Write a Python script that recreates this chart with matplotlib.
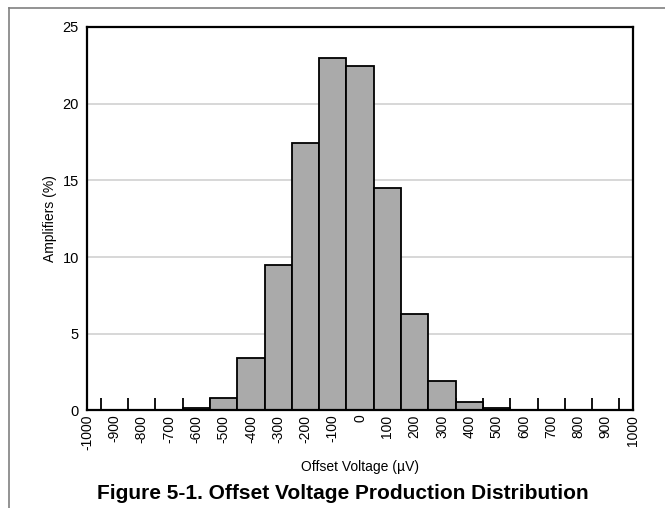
import matplotlib
matplotlib.use("Agg")
import matplotlib.pyplot as plt
import numpy as np
from matplotlib.lines import Line2D

plt.rcParams['font.family'] = ['Liberation Sans', 'DejaVu Sans']

# bin centers (uV) and share of amplifiers (%)
offset_uv = [-1000, -900, -800, -700, -600, -500, -400, -300, -200, -100, 0,
             100, 200, 300, 400, 500, 600, 700, 800, 900, 1000]
amplifiers_pct = [0, 0, 0, 0, 0.15, 0.8, 3.4, 9.5, 17.45, 22.95, 22.45,
                  14.48, 6.29, 1.89, 0.57, 0.13, 0, 0, 0, 0, 0]
y_ticks = [0, 5, 10, 15, 20, 25]

fig = plt.figure(figsize=(6.65, 5.08), dpi=100)
ax = fig.add_axes([0.131, 0.192, 0.821, 0.755])

ax.bar(offset_uv, amplifiers_pct, width=100, color="#aaaaaa",
       edgecolor="black", linewidth=1.3, zorder=3)

ax.set_xlim(-1000, 1000)
ax.set_ylim(0, 25)
ax.set_yticks(y_ticks)
ax.set_xticks(offset_uv)
ax.set_xticklabels([str(v) for v in offset_uv], rotation=90, fontsize=10)
ax.set_xticks(np.array(offset_uv[:-1]) + 50, minor=True)
ax.tick_params(axis="x", which="major", length=0, pad=3)
ax.tick_params(axis="x", which="minor", direction="in", length=9, width=1.3)
ax.tick_params(axis="y", length=0, pad=6, labelsize=10.5)
ax.grid(axis="y", color="#d4d4d4", linewidth=1.3, zorder=0)

for s in ax.spines.values():
    s.set_linewidth(1.6)
    s.set_zorder(4)

ax.set_xlabel("Offset Voltage (µV)", fontsize=10, labelpad=7)
ax.set_ylabel("Amplifiers (%)", fontsize=10, labelpad=4)

# document frame lines and caption
fig.add_artist(Line2D([0.013, 1.0], [0.985, 0.985], color="#808080", linewidth=1.2))
fig.add_artist(Line2D([0.013, 0.013], [0.0, 0.985], color="#808080", linewidth=1.2))
fig.text(0.515, 0.028, "Figure 5-1. Offset Voltage Production Distribution",
         ha="center", va="center", fontsize=15, fontweight="bold")

fig.savefig("out.png", dpi=100)
